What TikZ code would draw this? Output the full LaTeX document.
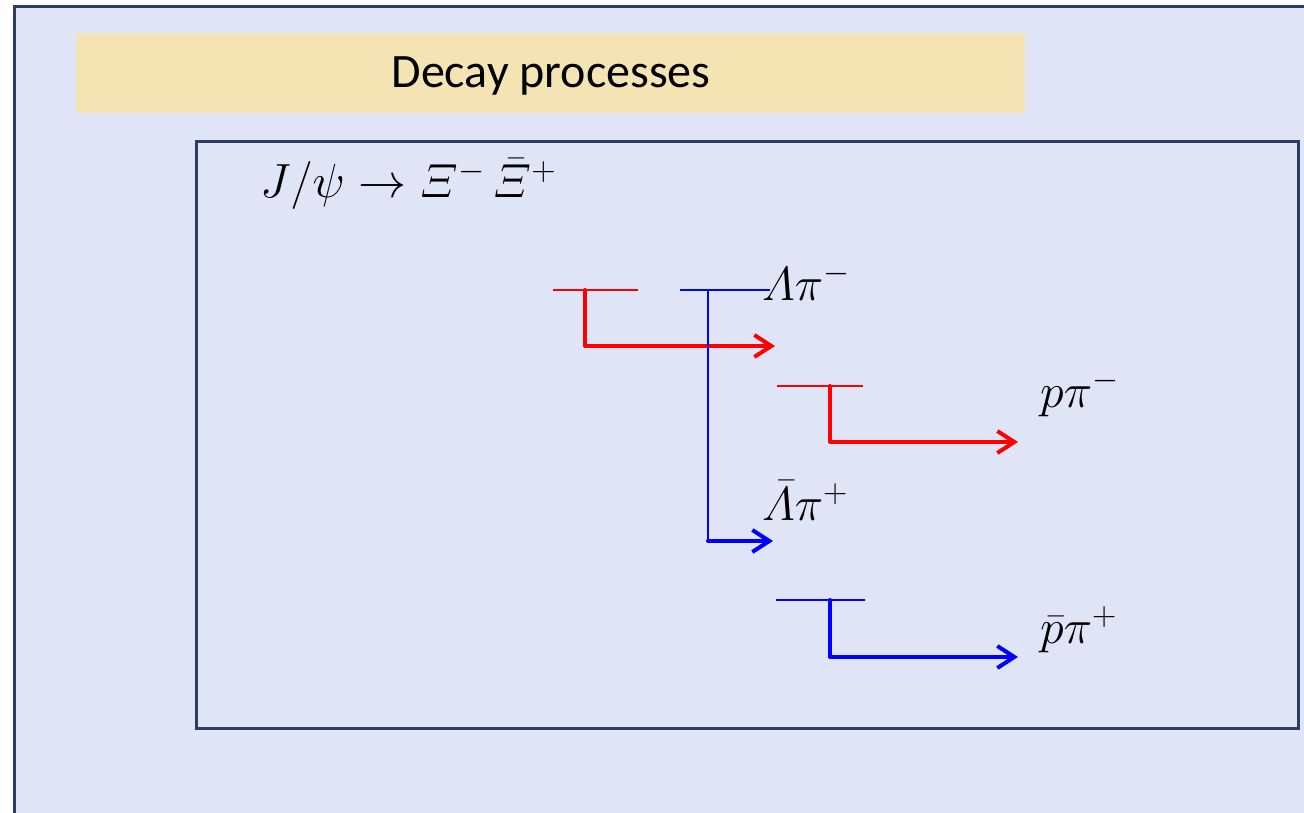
\documentclass[tikz,border=0pt]{standalone}
\usepackage{fix-cm}
\usepackage{amsmath}
\usepackage{fontspec}
\newfontfamily\carlito{Carlito}
\usetikzlibrary{arrows.meta}
\definecolor{bgblue}{RGB}{223,229,247}
\definecolor{bandyellow}{RGB}{245,228,179}
\definecolor{navy}{RGB}{47,61,102}
\definecolor{myred}{RGB}{255,0,0}
\definecolor{myblue}{RGB}{0,0,255}
\tikzset{
  thinline/.style={line width=2pt},
  thickline/.style={line width=4pt, line join=round, line cap=round},
  arr/.style={thickline, -{Straight Barb[length=17pt,width=22pt,line width=4pt]}},
  lbl/.style={anchor=base west, inner sep=0pt, font=\fontsize{48}{56}\selectfont},
}
\begin{document}
\begin{tikzpicture}[x=1pt,y=-1pt]
\useasboundingbox (0,0) rectangle (1304,813);
\clip (0,0) rectangle (1304,813);
% outer panel
\draw[navy, line width=3pt, fill=bgblue] (14.5,6.5) rectangle (1330,840);
% title band
\node[fill=bandyellow, minimum width=949pt, minimum height=80pt, inner sep=0pt, anchor=north west] (band) at (76,33) {};
\node[anchor=base, inner sep=0pt, font=\carlito\fontsize{48}{56}\selectfont] (title) at (551,88) {Decay processes};
% inner box
\node[draw=navy, line width=3pt, minimum width=1102pt, minimum height=586pt, inner sep=0pt, anchor=north west] (inner) at (195,140.5) {};
% main decay
\node[lbl] (jpsi) at (260,198) {$J/\psi \rightarrow \varXi^-\,\bar{\varXi}^+$};
% labels
\node[lbl] (lampi) at (762,300) {$\varLambda\pi^-$};
\node[lbl] (ppi) at (1040,407) {$p\pi^-$};
\node[lbl] (lambarpi) at (762,520) {$\bar{\varLambda}\pi^+$};
\node[lbl] (pbarpi) at (1040,643) {$\bar{p}\pi^+$};
% coordinates
\coordinate (r1a) at (553,290); \coordinate (r1b) at (638,290);
\coordinate (r1v) at (585,290); \coordinate (r1c) at (585,346); \coordinate (r1e) at (775,346);
\coordinate (b1a) at (680,290); \coordinate (b1b) at (770,290);
\coordinate (b1v) at (708,290); \coordinate (b1c) at (708,541); \coordinate (b1e) at (773,541);
\coordinate (r2a) at (777,386); \coordinate (r2b) at (863,386);
\coordinate (r2v) at (830,386); \coordinate (r2c) at (830,442); \coordinate (r2e) at (1018,442);
\coordinate (b2a) at (776,600); \coordinate (b2b) at (865,600);
\coordinate (b2v) at (830,600); \coordinate (b2c) at (830,657); \coordinate (b2e) at (1018,657);
% Xi- branch (red)
\draw[myred, thinline] (r1a) -- (r1b);
\draw[myred, arr] (r1v) -- (r1c) -- (r1e);
% Xibar+ branch (blue)
\draw[myblue, thinline] (b1a) -- (b1b);
\draw[myblue, thinline] (b1v) -- (b1c);
\draw[myblue, arr] (b1c) -- (b1e);
% Lambda decay (red)
\draw[myred, thinline] (r2a) -- (r2b);
\draw[myred, arr] (r2v) -- (r2c) -- (r2e);
% Lambdabar decay (blue)
\draw[myblue, thinline] (b2a) -- (b2b);
\draw[myblue, arr] (b2v) -- (b2c) -- (b2e);
\end{tikzpicture}
\end{document}
